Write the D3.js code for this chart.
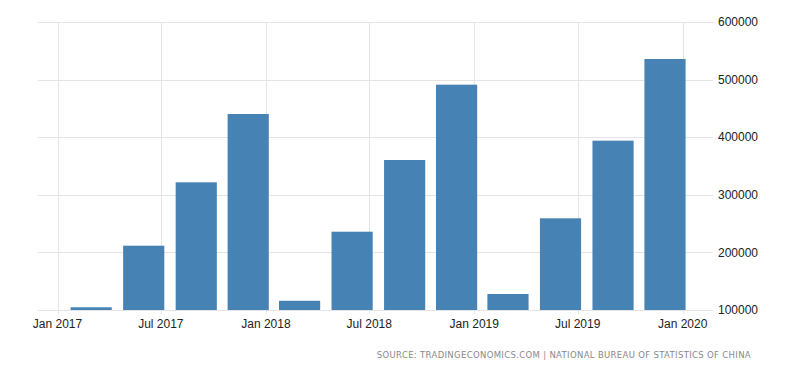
<!DOCTYPE html>
<html>
<head>
<meta charset="utf-8">
<script src="https://cdn.jsdelivr.net/npm/d3@7"></script>
<style>
  html, body { margin: 0; padding: 0; background: #fff; }
  svg { display: block; }
</style>
</head>
<body>
<svg id="chart" width="800" height="373"></svg>
<script>
const dates = ["2017-03-01","2017-06-01","2017-09-01","2017-12-01","2018-03-01","2018-06-01","2018-09-01","2018-12-01","2019-03-01","2019-06-01","2019-09-01","2019-12-01"];
const values = [104700, 211600, 321700, 440300, 116000, 235900, 360400, 491200, 127800, 259200, 394000, 535800];
const xTickDates = ["2017-01-01","2017-07-01","2018-01-01","2018-07-01","2019-01-01","2019-07-01","2020-01-01"];
const xTickLabels = ["Jan 2017","Jul 2017","Jan 2018","Jul 2018","Jan 2019","Jul 2019","Jan 2020"];
const yTicks = [100000, 200000, 300000, 400000, 500000, 600000];
const sourceText = "SOURCE: TRADINGECONOMICS.COM | NATIONAL BUREAU OF STATISTICS OF CHINA";

const parse = d3.utcParse("%Y-%m-%d");
const svg = d3.select("#chart");

const x = d3.scaleUtc()
  .domain([parse("2017-01-01"), parse("2020-01-01")])
  .range([57.5, 682.7]);
const y = d3.scaleLinear().domain([100000, 600000]).range([310, 22]);

const barW = (x.range()[1] - x.range()[0]) / 12 * 0.79;

// horizontal grid
svg.append("g").selectAll("line").data(yTicks).join("line")
  .attr("x1", 38).attr("x2", 713)
  .attr("y1", d => Math.round(y(d)) + 0.5).attr("y2", d => Math.round(y(d)) + 0.5)
  .attr("stroke", "#e4e4e4").attr("stroke-width", 1);

// vertical grid
svg.append("g").selectAll("line").data(xTickDates).join("line")
  .attr("x1", d => Math.round(x(parse(d))) + 0.5).attr("x2", d => Math.round(x(parse(d))) + 0.5)
  .attr("y1", 22).attr("y2", 314)
  .attr("stroke", "#e4e4e4").attr("stroke-width", 1);

// bars
svg.append("g").selectAll("rect").data(values).join("rect")
  .attr("x", (d, i) => x(parse(dates[i])) - barW / 2)
  .attr("width", barW)
  .attr("y", d => y(d))
  .attr("height", d => y(100000) - y(d))
  .attr("fill", "#4682b4");

// y labels
svg.append("g").selectAll("text").data(yTicks).join("text")
  .attr("x", 718).attr("y", d => y(d))
  .attr("dy", "0.35em")
  .attr("font-family", "'Liberation Sans', Arial, sans-serif")
  .attr("font-size", 12).attr("fill", "#222")
  .text(d => d3.format("d")(d));

// x labels
svg.append("g").selectAll("text").data(xTickDates).join("text")
  .attr("x", d => x(parse(d))).attr("y", 328)
  .attr("text-anchor", "middle")
  .attr("font-family", "'Liberation Sans', Arial, sans-serif")
  .attr("font-size", 12).attr("fill", "#222")
  .text((d, i) => xTickLabels[i]);

// source
svg.append("text")
  .attr("x", 751).attr("y", 358)
  .attr("text-anchor", "end")
  .attr("font-family", "'DejaVu Sans', sans-serif")
  .attr("font-size", 8.5).attr("fill", "#888")
  .attr("letter-spacing", 0.33)
  .text(sourceText);
</script>
</body>
</html>
